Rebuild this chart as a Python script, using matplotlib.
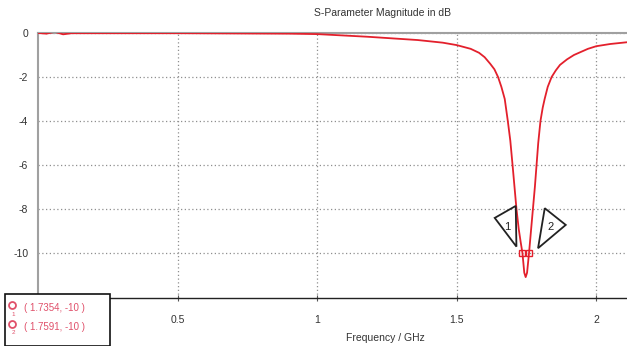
import matplotlib
matplotlib.use('Agg')
import matplotlib.pyplot as plt
import matplotlib.transforms as mtransforms
from matplotlib.patches import Polygon, Rectangle
from matplotlib.lines import Line2D

# S11 trace
freq = [0, 0.03, 0.06, 0.09, 0.12, 0.3, 0.5, 0.7, 0.9, 1.0, 1.18, 1.36, 1.45, 1.5,
        1.55, 1.58, 1.60, 1.62, 1.635, 1.648, 1.66, 1.672, 1.683, 1.692, 1.70, 1.707,
        1.714, 1.722, 1.729, 1.7354, 1.742, 1.747, 1.752, 1.7591, 1.766, 1.773, 1.78,
        1.786, 1.792, 1.80, 1.808, 1.815, 1.826, 1.84, 1.855, 1.87, 1.895, 1.92,
        1.97, 2.0, 2.05, 2.11]
s11_db = [0, -0.03, 0.05, -0.06, -0.01, -0.01, -0.01, -0.02, -0.03, -0.05, -0.17,
          -0.32, -0.44, -0.55, -0.72, -0.9, -1.1, -1.4, -1.65, -2.0, -2.45, -3.0,
          -4.0, -4.9, -6.0, -7.0, -8.0, -8.9, -9.5, -10.0, -10.9, -11.1, -10.9,
          -10.0, -9.0, -8.0, -7.0, -6.0, -5.0, -4.0, -3.4, -3.0, -2.45, -2.0, -1.7,
          -1.45, -1.2, -1.0, -0.72, -0.6, -0.5, -0.42]

marker_f = [1.7354, 1.7591]
marker_db = [-10, -10]
marker_names = ['1', '2']

x_ticks = [0.5, 1, 1.5, 2]
x_tick_labels = ['0.5', '1', '1.5', '2']
y_ticks = [0, -2, -4, -6, -8, -10]

red = '#e3202c'
pink = '#e0506a'
txt = '#333333'
plt.rcParams['font.family'] = ['Liberation Sans', 'DejaVu Sans']
plt.rcParams['axes.unicode_minus'] = False

fig = plt.figure(figsize=(6.27, 3.46), dpi=100)
ax = fig.add_axes([38 / 627, 48 / 346, 1 - 38 / 627, 265 / 346])

ax.plot(freq, s11_db, color=red, lw=1.3, zorder=3)
ax.plot(marker_f, marker_db, 's', ms=4, mfc='none', mec=red, mew=1, zorder=4)

ax.set_xlim(0, 2.11)
ax.set_ylim(-12.05, 0)
ax.set_xticks(x_ticks)
ax.set_xticklabels(x_tick_labels)
ax.set_yticks(y_ticks)
ax.tick_params(axis='x', direction='inout', length=5, width=0.8, pad=10,
               labelsize=7.5, labelcolor=txt, color='#555555')
ax.tick_params(axis='y', length=0, pad=7, labelsize=7.5, labelcolor=txt)
ax.grid(True, color='#8f8f8f', ls=(0, (1, 2)), lw=0.9)

ax.spines['right'].set_visible(False)
ax.spines['top'].set_color('#a0a0a0')
ax.spines['top'].set_linewidth(1.5)
ax.spines['left'].set_color('#a0a0a0')
ax.spines['left'].set_linewidth(1.5)
ax.spines['bottom'].set_color('#222222')
ax.spines['bottom'].set_linewidth(1)

# marker flags (pixel offsets from each marker point)
flags = [
    ([(-27.7, 35), (-6.7, 47), (-6, 6.3)], (-15.7, 26)),
    ([(15.7, 44.7), (36.7, 28), (9, 4.7)], (21.4, 26.3)),
]
for (verts, tpos), f, d, name in zip(flags, marker_f, marker_db, marker_names):
    tr = mtransforms.Affine2D() + mtransforms.ScaledTranslation(f, d, ax.transData)
    ax.add_patch(Polygon(verts, closed=True, fill=False, ec='#222222', lw=1.3,
                         transform=tr, zorder=5, clip_on=False))
    ax.text(tpos[0], tpos[1], name, transform=tr, ha='center', va='center',
            fontsize=8, color='#222222', zorder=6)

fig.text(383 / 627, 1 - 13 / 346, 'S-Parameter Magnitude in dB', ha='center',
         va='center', fontsize=7.5, color=txt)
fig.text(385 / 627, 1 - 338 / 346, 'Frequency / GHz', ha='center', va='center',
         fontsize=7.5, color=txt)

# marker readout box
fig.patches.append(Rectangle((5 / 627, 0), 105 / 627, 52 / 346, transform=fig.transFigure,
                             fc='white', ec='#111111', lw=1.2, zorder=10))
for i, (f, d) in enumerate(zip(marker_f, marker_db)):
    yy = 1 - (308 + 19 * i) / 346
    fig.lines.append(Line2D([12 / 627], [yy + 3 / 346], marker='o', ms=5, mfc='none',
                            mec=pink, mew=1.3, transform=fig.transFigure, zorder=11))
    fig.text(13 / 627, yy - 6 / 346, marker_names[i], fontsize=4.5, color=pink,
             ha='center', va='center', zorder=11)
    fig.text(24 / 627, yy, '( %.4f, %d )' % (f, d), fontsize=7, color=pink,
             ha='left', va='center', zorder=11)

fig.savefig('out.png', dpi=100)
